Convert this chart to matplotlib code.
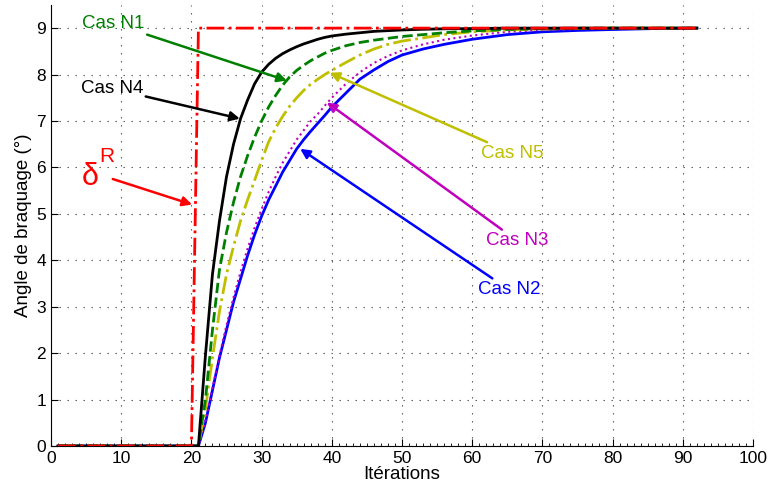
import numpy as np
import matplotlib
matplotlib.use('Agg')
import matplotlib.pyplot as plt
from matplotlib.ticker import MultipleLocator

plt.rcParams['font.family'] = ['Liberation Sans', 'DejaVu Sans']

# reference step (delta^R)
x_ref = [1, 20, 21, 92]
y_ref = [0, 0, 9, 9]

x_it = [1, 21, 22, 23, 24, 25, 26, 27, 28, 29, 30, 31, 32, 33, 34, 35, 36, 37, 38,
        39, 40, 42, 44, 46, 48, 50, 53, 56, 60, 65, 70, 75, 80, 86, 92]

cas_n4 = [0, 0, 1.95, 3.7, 4.85, 5.8, 6.5, 7.05, 7.45, 7.8, 8.05, 8.22, 8.35, 8.45,
          8.53, 8.6, 8.66, 8.71, 8.76, 8.8, 8.83, 8.87, 8.9, 8.93, 8.945, 8.96,
          8.975, 8.985, 8.99, 9.0, 9.0, 9.0, 9.0, 9.0, 9.0]
cas_n1 = [0, 0, 1.0, 2.5, 3.8, 4.6, 5.25, 5.8, 6.25, 6.65, 7.0, 7.3, 7.55, 7.77,
          7.95, 8.09, 8.2, 8.3, 8.38, 8.46, 8.52, 8.62, 8.69, 8.74, 8.78, 8.82,
          8.86, 8.9, 8.94, 8.97, 8.99, 9.0, 9.0, 9.0, 9.0]
cas_n5 = [0, 0, 0.8, 1.9, 2.9, 3.7, 4.3, 4.85, 5.3, 5.72, 6.15, 6.55, 6.85, 7.1,
          7.32, 7.5, 7.66, 7.79, 7.9, 8.0, 8.09, 8.26, 8.42, 8.55, 8.65, 8.72,
          8.79, 8.86, 8.92, 8.96, 8.98, 8.99, 9.0, 9.0, 9.0]
cas_n3 = [0, 0, 0.55, 1.25, 1.95, 2.6, 3.2, 3.75, 4.25, 4.7, 5.1, 5.47, 5.8, 6.1,
          6.35, 6.6, 6.8, 7.0, 7.15, 7.33, 7.5, 7.8, 8.05, 8.25, 8.4, 8.52, 8.65,
          8.75, 8.84, 8.92, 8.96, 8.98, 8.99, 9.0, 9.0]
cas_n2 = [0, 0, 0.5, 1.2, 1.9, 2.5, 3.1, 3.6, 4.1, 4.55, 4.95, 5.3, 5.6, 5.9,
          6.15, 6.4, 6.6, 6.78, 6.95, 7.12, 7.3, 7.6, 7.9, 8.1, 8.28, 8.42, 8.55,
          8.65, 8.76, 8.86, 8.92, 8.95, 8.97, 8.99, 9.0]

green = (0, 0.5, 0)
yellow = (0.75, 0.75, 0)
magenta = (0.75, 0, 0.75)

fig = plt.figure(figsize=(7.68, 4.90), dpi=100)
ax = fig.add_axes([0.0664, 0.0898, 0.9141, 0.9002])

ax.plot(x_it, cas_n2, color='b', lw=2)
ax.plot(x_it, cas_n3, color=magenta, lw=1.5, ls=':')
ax.plot(x_it, cas_n5, color=yellow, lw=2, ls='-.')
ax.plot(x_it, cas_n1, color=green, lw=2, ls='--')
ax.plot(x_it, cas_n4, color='k', lw=2)
ax.plot(x_ref, y_ref, color='r', lw=2, ls='-.')

ax.set_xlim(0, 100)
ax.set_ylim(0, 9.5)
ax.xaxis.set_major_locator(MultipleLocator(10))
ax.xaxis.set_minor_locator(MultipleLocator(1))
ax.yaxis.set_major_locator(MultipleLocator(1))
ax.grid(True, which='major', ls=(0, (1.2, 6)), lw=0.8, color='0.3')
ax.tick_params(direction='in', labelsize=12.5, length=5)
ax.tick_params(which='minor', direction='in', length=2.5)
ax.spines['top'].set_visible(False)
ax.spines['right'].set_visible(False)
ax.set_xlabel('Itérations', fontsize=13.5, labelpad=0)
ax.set_ylabel('Angle de braquage (°)', fontsize=13.5, labelpad=3)

arrow = dict(arrowstyle='-|>', lw=1.8, mutation_scale=14, shrinkA=0, shrinkB=0)
ax.annotate('Cas N1', xy=(33.6, 7.87), xytext=(13.3, 9.1), color=green, fontsize=13.5,
            ha='right', va='center', arrowprops=dict(arrow, color=green))
ax.annotate('Cas N4', xy=(26.9, 7.05), xytext=(13.1, 7.7), color='k', fontsize=13.5,
            ha='right', va='center', arrowprops=dict(arrow, color='k'))
ax.annotate('', xy=(20.1, 5.2), xytext=(8.8, 5.75), arrowprops=dict(arrow, color='r'))
ax.text(4.4, 5.62, 'δ', color='r', fontsize=22, ha='left', va='baseline')
ax.text(6.9, 6.12, 'R', color='r', fontsize=15, ha='left', va='baseline')
ax.annotate('Cas N5', xy=(39.7, 8.04), xytext=(61.3, 6.3), color=yellow, fontsize=13.5,
            ha='left', va='center', arrowprops=dict(arrow, color=yellow))
ax.annotate('Cas N3', xy=(39.3, 7.4), xytext=(62.0, 4.6), color=magenta, fontsize=13.5,
            ha='left', va='top', arrowprops=dict(arrow, color=magenta))
ax.annotate('Cas N2', xy=(35.5, 6.4), xytext=(60.8, 3.55), color='b', fontsize=13.5,
            ha='left', va='top', arrowprops=dict(arrow, color='b'))

fig.savefig('out.png', dpi=100)
